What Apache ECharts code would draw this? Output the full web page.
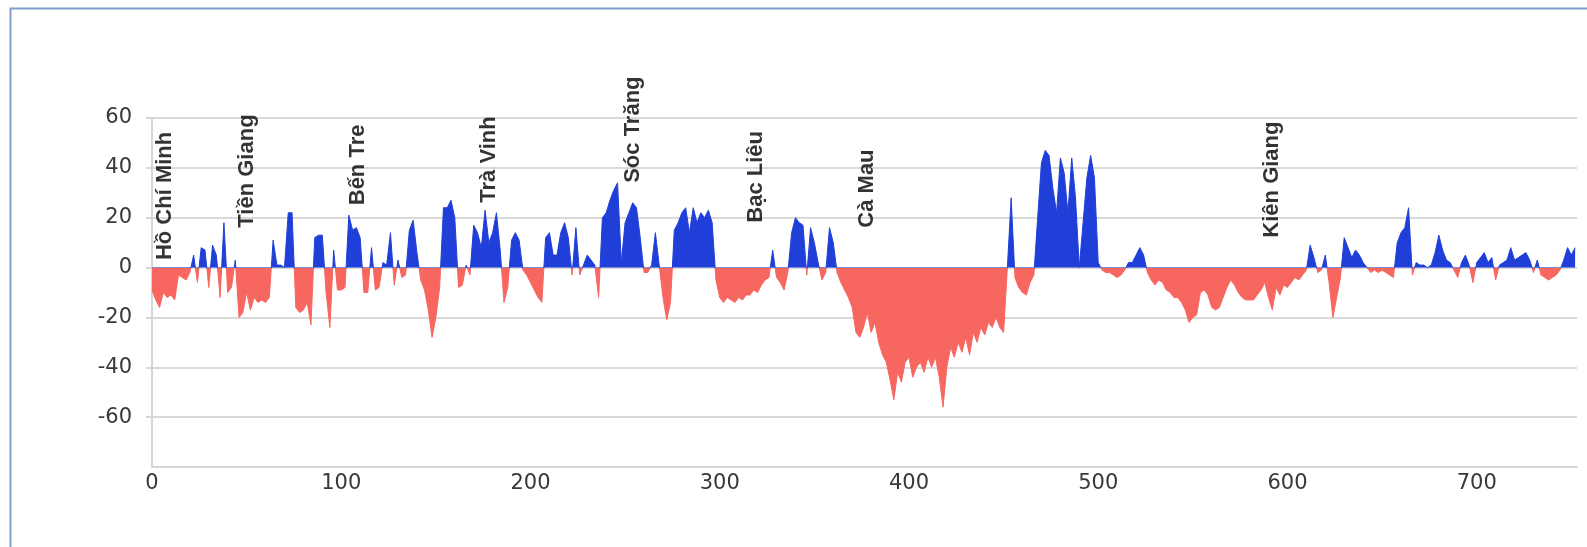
<!DOCTYPE html>
<html>
<head>
<meta charset="utf-8">
<script src="https://cdn.jsdelivr.net/npm/echarts@6/dist/echarts.min.js"></script>
<style>
html,body{margin:0;padding:0;background:#fff;}
#chart{width:1587px;height:547px;}
</style>
</head>
<body>
<div id="chart"></div>
<script>
// Sample spacing along the coast (x units)
const xStep = 2;
// Values read every 2 units from x = 0 to 752
const values = [
-9,-13,-16,-10,-12,-11,-13,-3,-4,-5,
-2,5,-6,8,7,-8,9,5,-12,18,
-10,-8,3,-20,-18,-10,-17,-12,-14,-13,
-14,-12,11,1,1,0,22,22,-16,-18,
-17,-14,-23,12,13,13,-10,-24,7,-9,
-9,-8,21,15,16,12,-10,-10,8,-9,
-8,2,1,14,-7,3,-4,-3,15,19,
6,-5,-9,-17,-28,-20,-8,24,24,27,
20,-8,-7,1,-3,17,14,8,23,10,
14,22,7,-14,-8,11,14,11,-1,-3,
-6,-9,-12,-14,12,14,
5,5,14,18,12,-3,16,-3,1,5,
3,1,-12,20,22,27,31,34,2,18,
22,26,24,12,-2,-2,1,14,1,-12,
-21,-14,15,18,22,24,14,24,18,22,
20,23,18,-5,-12,-14,-12,-13,-14,-12,
-13,-11,-11,-9,-10,-7,-5,-4,7,-4,
-6,-9,-2,14,20,18,17,-3,16,10,
2,-5,-2,16,10,-2,-6,-9,-12,-16,
-26,-28,-24,-18,-26,-22,-30,-35,-38,-45,
-53,-42,-46,-38,-36,-44,-40,-38,-42,-36,
-40,-36,-44,-56,-40,
-32,-36,-30,-34,-28,-35,-26,-30,-24,-27,
-22,-24,-20,-24,-26,0,28,-4,-8,-10,
-11,-6,-3,20,42,47,45,32,22,44,
38,22,44,28,0,18,36,45,36,2,
-1,-2,-2,-3,-4,-3,-1,2,2,5,
8,5,-2,-5,-7,-5,-6,-9,-10,-12,
-12,-14,-17,-22,-20,-19,-10,-9,-11,-16,
-17,-16,-12,-8,-5,-7,-10,-12,-13,-13,
-13,-11,-9,-6,-12,-17,-8,-11,-7,-8,
-6,-4,-5,-3,-1,
9,4,-2,-1,5,-6,-20,-12,-4,12,
8,4,7,5,2,0,-2,-1,-2,-1,
-2,-3,-4,10,14,16,24,-3,2,1,
1,0,1,6,13,7,3,2,-1,-4,
2,5,1,-6,2,4,6,2,4,-5,
1,2,3,8,3,4,5,6,3,-2,
3,-3,-4,-5,-4,-3,-1,3,8,5,
8
];

// Province labels: name, x position, and y value of the label's lower end
const provinceNames = ['Hồ Chí Minh','Tiền Giang','Bến Tre','Trà Vinh','Sóc Trăng','Bạc Liêu','Cà Mau','Kiên Giang'];
const provinceX = [7, 50, 109, 178, 254, 319, 378, 592];
const provinceY = [3, 16, 25, 26, 34, 18, 16, 12];

const xTicks = [0, 100, 200, 300, 400, 500, 600, 700];
const yTicks = [-80, -60, -40, -20, 0, 20, 40, 60];

const seriesData = values.map((v, i) => [i * xStep, v]);
const labelData = provinceNames.map((n, i) => ({ name: n, value: [provinceX[i], provinceY[i]] }));

const chart = echarts.init(document.getElementById('chart'), null, { renderer: 'canvas' });
chart.setOption({
  backgroundColor: '#ffffff',
  animation: false,
  graphic: [{
    type: 'rect',
    left: 8, top: 6,
    shape: { width: 1640, height: 620 },
    style: { fill: 'none', stroke: '#7f9fc6', lineWidth: 2 },
    silent: true, z: 100
  }],
  grid: { left: 152, right: 10, top: 118, bottom: 80 },
  xAxis: {
    type: 'value',
    min: 0, max: 753, interval: 100,
    axisLine: { onZero: false, lineStyle: { color: '#d6d6d6', width: 2 } },
    axisTick: { show: false },
    splitLine: { show: false },
    axisLabel: {
      showMaxLabel: false,
      color: '#383838', fontSize: 21, fontFamily: 'DejaVu Sans', margin: 6,
      formatter: v => (xTicks.indexOf(v) >= 0 ? String(v) : '')
    }
  },
  yAxis: {
    type: 'value',
    min: -80, max: 60, interval: 20,
    axisLine: { show: true, onZero: false, lineStyle: { color: '#d6d6d6', width: 2 } },
    axisTick: { show: true, length: 6, lineStyle: { color: '#d6d6d6', width: 2 } },
    splitLine: { show: true, lineStyle: { color: '#d9d9d9', width: 2 } },
    axisLabel: {
      showMinLabel: false,
      color: '#383838', fontSize: 21, fontFamily: 'DejaVu Sans', margin: 20,
      formatter: v => (yTicks.indexOf(v) >= 0 && v !== -80 ? String(v) : '')
    }
  },
  visualMap: {
    show: false,
    type: 'piecewise',
    seriesIndex: 0,
    dimension: 1,
    pieces: [
      { gte: -200, lt: 0, color: '#f7665f' },
      { gte: 0, lte: 200, color: '#1f3fd8' }
    ]
  },
  series: [
    {
      type: 'line',
      data: seriesData,
      symbol: 'none',
      lineStyle: { width: 1 },
      areaStyle: { opacity: 1 },
      z: 2
    },
    {
      type: 'scatter',
      data: labelData,
      symbolSize: 1,
      itemStyle: { color: 'rgba(0,0,0,0)' },
      z: 5,
      label: {
        show: true,
        position: 'inside',
        rotate: 90,
        align: 'left',
        verticalAlign: 'middle',
        formatter: p => p.name,
        color: '#000000',
        fontSize: 22,
        fontWeight: 'bold',
        fontFamily: 'Liberation Sans'
      }
    }
  ]
});
</script>
</body>
</html>
